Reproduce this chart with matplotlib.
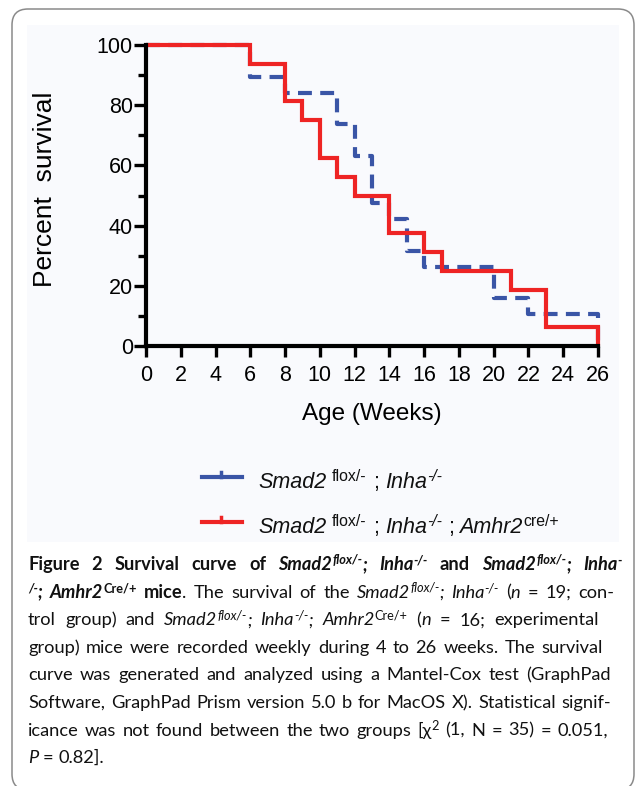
import matplotlib
matplotlib.use('Agg')
import matplotlib.pyplot as plt
from matplotlib import font_manager
from matplotlib.patches import FancyBboxPatch, Rectangle
from matplotlib.lines import Line2D
from matplotlib.transforms import IdentityTransform

plt.rcParams['lines.scale_dashes'] = False

W, H, DPI = 635, 786, 100

# ---------------- data ----------------
ctrl_weeks = [0, 6, 8, 11, 12, 13, 14, 15, 16, 20, 22, 26]
ctrl_surv = [100, 89.47, 84.21, 73.68, 63.16, 47.37, 42.11, 31.58, 26.32, 15.79, 10.53, 0]
exp_weeks = [0, 6, 8, 9, 10, 11, 12, 14, 16, 17, 21, 23, 26]
exp_surv = [100, 93.75, 81.25, 75, 62.5, 56.25, 50, 37.5, 31.25, 25, 18.75, 6.25, 0]
x_ticks = list(range(0, 27, 2))
y_ticks = [0, 20, 40, 60, 80, 100]
y_minor = [10, 30, 50, 70, 90]
x_label = 'Age (Weeks)'
y_label = 'Percent  survival'

legend_ctrl = [('Smad2', 'i'), (' flox/-', 'r^'), (' ;', 'r'), (' Inha', 'i'), ('-/-', 'i^')]
legend_exp = [('Smad2', 'i'), (' flox/-', 'r^'), (' ;', 'r'), (' Inha', 'i'), ('-/-', 'i^'),
              (' ;', 'r'), (' Amhr2', 'i'), ('cre/+', 'r^')]

caption_lines = [
    [('Figure 2 Survival curve of ', 'b'), ('Smad2', 'bi'), ('flox/-', 'bi^'), ('; Inha', 'bi'),
     ('-/-', 'bi^'), (' and ', 'b'), ('Smad2', 'bi'), ('flox/-', 'bi^'), ('; Inha', 'bi'), ('-', 'bi^')],
    [('/-', 'bi^'), ('; Amhr2', 'bi'), ('Cre/+', 'b^'), (' mice', 'b'), ('. The survival of the ', 'r'),
     ('Smad2', 'i'), ('flox/-', 'i^'), ('; Inha', 'i'), ('-/-', 'i^'), (' (', 'r'), ('n', 'i'),
     (' = 19; con-', 'r')],
    [('trol group) and ', 'r'), ('Smad2', 'i'), ('flox/-', 'i^'), ('; Inha', 'i'), ('-/-', 'i^'),
     ('; Amhr2', 'i'), ('Cre/+', 'r^'), (' (', 'r'), ('n', 'i'), (' = 16; experimental', 'r')],
    [('group) mice were recorded weekly during 4 to 26 weeks. The survival', 'r')],
    [('curve was generated and analyzed using a Mantel-Cox test (GraphPad', 'r')],
    [('Software, GraphPad Prism version 5.0 b for MacOS X). Statistical signif-', 'r')],
    [('icance was not found between the two groups [\u03c7', 'r'), ('2', 'r^'),
     (' (1, N = 35) = 0.051,', 'r')],
    [('P', 'i'), (' = 0.82].', 'r')],
]
caption_right = [622, 614, 599, 603, 611, 611, 608, None]

# ---------------- styling ----------------
BLUE = '#3a55a6'
RED = '#ee2424'
avail = {f.name for f in font_manager.fontManager.ttflist}
SANS = 'Liberation Sans' if 'Liberation Sans' in avail else 'DejaVu Sans'
CAP = next((f for f in ['Liberation Sans Narrow', 'Lato', 'Roboto', 'Open Sans'] if f in avail),
           'DejaVu Sans')

STYLE = {'r': ('normal', 'normal'), 'b': ('bold', 'normal'),
         'i': ('normal', 'italic'), 'bi': ('bold', 'italic')}

fig = plt.figure(figsize=(W / DPI, H / DPI), dpi=DPI)
fig.patch.set_facecolor('white')
ID = IdentityTransform()

# outer rounded frame
fig.add_artist(FancyBboxPatch((12, H - 790), 622, 790 - 9,
                              boxstyle='round,pad=0,rounding_size=16',
                              transform=ID, facecolor='none', edgecolor='#8a8a8a',
                              lw=1.1, zorder=-2))
# light panel behind the chart
fig.add_artist(Rectangle((27, H - 542), 592, 517, transform=ID,
                         facecolor='#f9fafd', edgecolor='none', zorder=-1))

# ---------------- axes ----------------
ax = fig.add_axes([146 / W, 1 - 346 / H, 452 / W, 301 / H])
ax.set_zorder(1)
ax.patch.set_alpha(0)
ax.set_xlim(0, 26)
ax.set_ylim(0, 100)
ax.step(ctrl_weeks, ctrl_surv, where='post', color=BLUE, lw=3.0,
        linestyle=(0, (10, 6)), dash_capstyle='butt', clip_on=False, zorder=2)
ax.step(exp_weeks, exp_surv, where='post', color=RED, lw=3.0,
        solid_joinstyle='miter', solid_capstyle='butt', clip_on=False, zorder=2.2)
for s in ['top', 'right']:
    ax.spines[s].set_visible(False)
for s in ['left', 'bottom']:
    ax.spines[s].set_linewidth(3)
    ax.spines[s].set_capstyle('projecting')
    ax.spines[s].set_zorder(3)
ax.set_xticks(x_ticks)
ax.set_yticks(y_ticks)
ax.set_yticks(y_minor, minor=True)
ax.tick_params(axis='y', which='major', length=9, width=2.4, pad=0.5, labelsize=15.5)
ax.tick_params(axis='y', which='minor', length=6, width=2.4)
ax.tick_params(axis='x', which='major', length=8, width=2.4, pad=5.5, labelsize=15.5)
for lab in ax.get_xticklabels() + ax.get_yticklabels():
    lab.set_family(SANS)

fig.text(45, H - 189, y_label, transform=ID, rotation=90, ha='center', va='center',
         fontsize=19, family=SANS)
fig.text(372, H - 414, x_label, transform=ID, ha='center', va='center',
         fontsize=17.5, family=SANS)

renderer = fig.canvas.get_renderer()


def words_from(segments):
    words = [[]]
    for text, code in segments:
        parts = text.split(' ')
        for k, p in enumerate(parts):
            if k > 0:
                words.append([])
            if p:
                words[-1].append((p, code))
    return [w for w in words if w]


def draw_word(word, x, y, family, size, sup_scale, sup_rise, draw=True):
    x0 = x
    for text, code in word:
        sup = code.endswith('^')
        weight, style = STYLE[code.rstrip('^')]
        fs = size * sup_scale if sup else size
        yy = y - (sup_rise if sup else 0)
        t = fig.text(x, H - yy, text, transform=ID, ha='left', va='baseline',
                     fontsize=fs, family=family, weight=weight, style=style,
                     color='#111111', zorder=5)
        w = t.get_window_extent(renderer).width
        if not draw:
            t.remove()
        x += w
    return x - x0


def space_width(family, size):
    a = fig.text(0, 0, 'x x', fontsize=size, family=family)
    b = fig.text(0, 0, 'xx', fontsize=size, family=family)
    w = a.get_window_extent(renderer).width - b.get_window_extent(renderer).width
    a.remove(); b.remove()
    return w


def natural_width(segments, family, size, sup_scale, sup_rise):
    words = words_from(segments)
    widths = [draw_word(w, 0, -100, family, size, sup_scale, sup_rise, draw=False) for w in words]
    return sum(widths) + space_width(family, size) * (len(words) - 1)


def draw_rich(segments, x, y, family, size, right=None, sup_scale=0.72, sup_rise=None):
    if sup_rise is None:
        sup_rise = size * 0.45
    words = words_from(segments)
    widths = [draw_word(w, 0, -100, family, size, sup_scale, sup_rise, draw=False) for w in words]
    sp = space_width(family, size)
    if right is not None and len(words) > 1:
        gap = (right - x - sum(widths)) / (len(words) - 1)
    else:
        gap = sp
    for w, wd in zip(words, widths):
        draw_word(w, x, y, family, size, sup_scale, sup_rise)
        x += wd + gap


# ---------------- legend ----------------
leg_rows = [(477, 488, BLUE, legend_ctrl, True), (522, 533, RED, legend_exp, False)]
for ly, by, col, segs, dashed in leg_rows:
    if dashed:
        fig.add_artist(Line2D([202, 219], [H - ly, H - ly], transform=ID, color=col, lw=3, zorder=5))
        fig.add_artist(Line2D([223, 242], [H - ly, H - ly], transform=ID, color=col, lw=3, zorder=5))
    else:
        fig.add_artist(Line2D([202, 242], [H - ly, H - ly], transform=ID, color=col, lw=3, zorder=5))
    fig.add_artist(Line2D([221, 221], [H - ly, H - ly + 5], transform=ID, color=col, lw=2.5, zorder=5))
    draw_rich(segs, 258, by, SANS, 15.5, sup_scale=0.74, sup_rise=7)

# ---------------- caption ----------------
cap_family = [CAP, 'DejaVu Sans']
cap_size = 16.0
ratios = []
for i, segs in enumerate(caption_lines):
    if caption_right[i] is not None:
        nw = natural_width(segs, cap_family, cap_size, 0.7, 7)
        ratios.append(nw / (caption_right[i] - 28))
cap_size = min(16.0, cap_size / max(ratios) * 0.99)

base0, lead = 570, 27.6
for i, segs in enumerate(caption_lines):
    draw_rich(segs, 28, base0 + i * lead, cap_family, cap_size,
              right=caption_right[i], sup_scale=0.7, sup_rise=cap_size * 0.42)

fig.savefig('out.png', dpi=DPI, facecolor='white')
